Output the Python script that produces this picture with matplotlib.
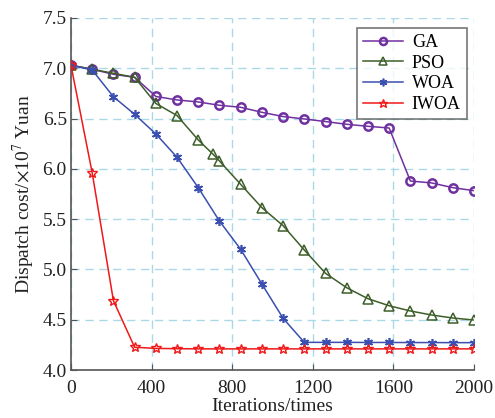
import numpy as np
import matplotlib
matplotlib.use("Agg")
import matplotlib.pyplot as plt

plt.rcParams['font.family'] = ['Liberation Serif', 'DejaVu Serif']
plt.rcParams['mathtext.fontset'] = 'stix'

# iterations (20 samples over 0..2000)
iters = np.linspace(0, 2000, 20)

ga = [7.03, 6.99, 6.94, 6.91, 6.72, 6.685, 6.665, 6.632, 6.612, 6.562,
      6.52, 6.496, 6.47, 6.443, 6.423, 6.406, 5.879, 5.86, 5.813, 5.783]

# PSO has one extra sample near 705
pso_x = [0, 105.3, 210.5, 315.8, 421.1, 526.3, 631.6, 705, 736.8, 842.1,
         947.4, 1052.6, 1157.9, 1263.2, 1368.4, 1473.7, 1578.9, 1684.2,
         1789.5, 1894.7, 2000]
pso = [7.03, 6.99, 6.95, 6.91, 6.65, 6.53, 6.287, 6.145, 6.078, 5.846,
       5.614, 5.435, 5.193, 4.961, 4.818, 4.709, 4.639, 4.587, 4.547, 4.517, 4.497]

woa = [7.03, 6.983, 6.717, 6.542, 6.347, 6.115, 5.813, 5.481, 5.2, 4.855,
       4.514, 4.275, 4.275, 4.275, 4.274, 4.274, 4.273, 4.273, 4.272, 4.272]

iwoa = [7.03, 5.96, 4.69, 4.226, 4.215, 4.212, 4.21, 4.21, 4.21, 4.21,
        4.21, 4.21, 4.21, 4.21, 4.21, 4.21, 4.21, 4.21, 4.21, 4.21]

fig = plt.figure(figsize=(4.95, 4.18), dpi=100)
ax = fig.add_axes([0.1434, 0.1148, 0.8142, 0.8422])

c_ga = '#7030A0'
c_pso = '#3D5E2A'
c_woa = '#3A4FB0'
c_iwoa = '#F01818'

ax.plot(iters, ga, color=c_ga, lw=1.1, marker='o', ms=6, mfc='none', mew=1.8, label='GA', zorder=3)
ax.plot(pso_x, pso, color=c_pso, lw=1.1, marker='^', ms=7, mfc='none', mew=1.1, label='PSO', zorder=4)
ax.plot(iters, woa, color=c_woa, lw=1.1, marker=(6, 2, 0), ms=6.5, mew=1.2, label='WOA', zorder=5)
ax.plot(iters, iwoa, color=c_iwoa, lw=1.1, marker='*', ms=7.5, mfc='none', mew=1.0, label='IWOA', zorder=6)

ax.set_xlim(0, 2000)
ax.set_ylim(4.0, 7.5)
ax.set_xticks([0, 400, 800, 1200, 1600, 2000])
ax.set_yticks([4.0, 4.5, 5.0, 5.5, 6.0, 6.5, 7.0, 7.5])
ax.set_yticklabels(['4.0', '4.5', '5.0', '5.5', '6.0', '6.5', '7.0', '7.5'])

ax.grid(True, color='#A9D9E6', ls=(0, (6, 4)), lw=1.0)
ax.set_axisbelow(True)
for s in ['top', 'right']:
    ax.spines[s].set_visible(False)
for s in ['left', 'bottom']:
    ax.spines[s].set_color('#555555')
    ax.spines[s].set_linewidth(1.2)

ax.tick_params(direction='in', length=4, color='#555555', labelsize=14, labelcolor='#222222')
ax.tick_params(axis='x', pad=7)
ax.tick_params(axis='y', pad=3)

ax.set_xlabel('Iterations/times', fontsize=14, color='#222222', labelpad=1)
ax.set_ylabel(r'Dispatch cost/$\times$10$^7$ Yuan', fontsize=14, color='#222222', labelpad=4)

leg = ax.legend(loc='upper right', bbox_to_anchor=(0.983, 0.972), fontsize=13, frameon=True,
                fancybox=False, edgecolor='#555555', handlelength=2.2, borderpad=0.35,
                labelspacing=0.2, handletextpad=0.5, markerscale=0.85, borderaxespad=0)
leg.get_frame().set_linewidth(1.2)

fig.savefig('out.png', dpi=100)
